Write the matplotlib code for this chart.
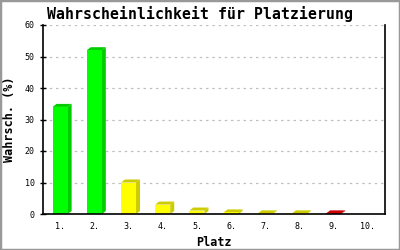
import matplotlib
matplotlib.use("Agg")
import matplotlib.pyplot as plt
from matplotlib.patches import Polygon, Rectangle

places = ["1.", "2.", "3.", "4.", "5.", "6.", "7.", "8.", "9.", "10."]
probs = [34.0, 52.0, 10.0, 3.0, 1.1, 0.5, 0.2, 0.2, 0.2, 0.0]
front_colors = ["#00ff00", "#00ff00", "#ffff00", "#ffff00", "#ffff00", "#ffff00",
                "#ffff00", "#ffff00", "#ff0000", "#ff0000"]
side_colors = ["#00cc00", "#00cc00", "#cccc00", "#cccc00", "#cccc00", "#cccc00",
               "#cccc00", "#cccc00", "#cc0000", "#cc0000"]
yticks = [0, 10, 20, 30, 40, 50, 60]

fig = plt.figure(figsize=(4, 2.5), dpi=100)
fig.patch.set_facecolor("white")
fig.add_artist(Rectangle((0, 0), 1, 1, transform=fig.transFigure, fill=False,
                         edgecolor="#999999", linewidth=2.5))
ax = fig.add_axes([0.1075, 0.144, 0.855, 0.756])
ax.set_xlim(-0.5, len(places) - 0.5)
ax.set_ylim(0, 60)

width = 0.44
px_x = 0.855 * 400 / len(places)
px_y = 0.756 * 250 / 60
dx = 4 / px_x
dy = 3 / px_y

xs = list(range(len(places)))
for x, v, fc, sc in zip(xs, probs, front_colors, side_colors):
    if v <= 0:
        continue
    x0 = x - width / 2
    x1 = x + width / 2
    ax.add_patch(Polygon([(x1, 0), (x1 + dx, dy), (x1 + dx, v + dy), (x1, v)],
                         closed=True, facecolor=sc, edgecolor="none", zorder=3))
    ax.add_patch(Polygon([(x0, v), (x0 + dx, v + dy), (x1 + dx, v + dy), (x1, v)],
                         closed=True, facecolor=sc, edgecolor="none", zorder=3))
    ax.bar(x, v, width=width, color=fc, edgecolor="none", zorder=4)

for t in yticks[1:]:
    ax.axhline(t, color="#c0c0c0", linestyle=(0, (2, 3)), linewidth=0.9, zorder=1)

ax.spines["top"].set_visible(False)
for s in ["left", "right", "bottom"]:
    ax.spines[s].set_linewidth(1.2)
    ax.spines[s].set_zorder(5)

ax.set_yticks(yticks)
ax.set_yticklabels([str(t) for t in yticks], fontsize=6, family="DejaVu Sans Mono")
ax.set_xticks(xs)
ax.set_xticklabels(places, fontsize=6, family="DejaVu Sans Mono")
ax.tick_params(axis="x", length=0, pad=6)
ax.tick_params(axis="y", length=4, width=1, direction="inout", pad=4)

fig.text(0.5, 0.946, "Wahrscheinlichkeit für Platzierung", fontsize=10.7,
         fontweight="bold", family="DejaVu Sans Mono", ha="center", va="center")
ax.set_ylabel("Wahrsch. (%)", fontsize=8.5, fontweight="bold", family="DejaVu Sans Mono",
              labelpad=6)
ax.set_xlabel("Platz", fontsize=8.5, fontweight="bold", family="DejaVu Sans Mono",
              labelpad=3)

fig.savefig("out.png", dpi=100, facecolor="white")
